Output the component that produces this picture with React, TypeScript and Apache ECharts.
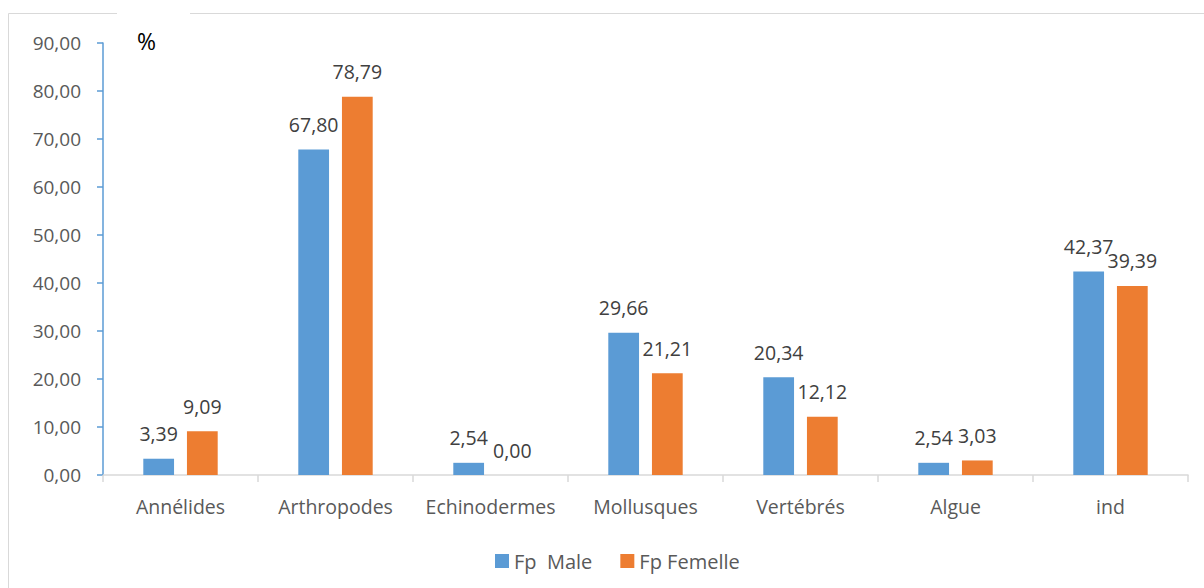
import React, { useEffect, useRef } from "react";
import * as echarts from "echarts";

const categories = ["Annélides", "Arthropodes", "Echinodermes", "Mollusques", "Vertébrés", "Algue", "ind"];
const maleValues = [3.39, 67.8, 2.54, 29.66, 20.34, 2.54, 42.37];
const femaleValues = [9.09, 78.79, 0.0, 21.21, 12.12, 3.03, 39.39];
const seriesNames = ["Fp  Male", "Fp Femelle"];

const fmt = (v: number) => v.toFixed(2).replace(".", ",");

export default function App() {
  const ref = useRef<HTMLDivElement>(null);
  useEffect(() => {
    if (!ref.current) return;
    const chart = echarts.init(ref.current, undefined, { renderer: "svg" });
    const font = "'Open Sans', 'Liberation Sans', sans-serif";
    const labelCfg = {
      show: true,
      position: "top" as const,
      distance: 15,
      color: "#404040",
      fontSize: 19.5,
      fontFamily: font,
      formatter: (p: any) => fmt(p.value),
    };
    chart.setOption({
      animation: false,
      backgroundColor: "#ffffff",
      textStyle: { fontFamily: font },
      graphic: [
        {
          type: "rect",
          shape: { x: 8.5, y: 13.5, width: 1400, height: 800 },
          style: { fill: "none", stroke: "#d9d9d9", lineWidth: 1 },
          silent: true,
          z: -10,
        },
        {
          type: "rect",
          shape: { x: 117, y: 10, width: 73, height: 8 },
          style: { fill: "#ffffff" },
          silent: true,
          z: -5,
        },
        {
          type: "text",
          left: 137,
          top: 29,
          style: { text: "%", fontSize: 23, fill: "#000000", fontFamily: font },
        },
      ],
      legend: {
        left: 490,
        top: 546,
        itemWidth: 14,
        itemHeight: 14,
        itemGap: 28,
        icon: "rect",
        textStyle: { color: "#595959", fontSize: 20, fontFamily: font },
        data: seriesNames,
      },
      grid: { left: 103, right: 16, top: 43, bottom: 113, containLabel: false },
      xAxis: {
        type: "category",
        data: categories,
        axisLine: { lineStyle: { color: "#d9d9d9", width: 1.5 } },
        axisTick: { show: true, length: 7, lineStyle: { color: "#d9d9d9", width: 1.5 } },
        axisLabel: { color: "#595959", fontSize: 19.5, margin: 21, fontFamily: font, interval: 0 },
      },
      yAxis: {
        type: "value",
        min: 0,
        max: 90,
        interval: 10,
        splitLine: { show: false },
        axisLine: { show: true, lineStyle: { color: "#5B9BD5", width: 1.5 } },
        axisTick: { show: true, length: 6, lineStyle: { color: "#5B9BD5", width: 1.5 } },
        axisLabel: { color: "#595959", fontSize: 19, margin: 22, fontFamily: font, formatter: (v: number) => fmt(v) },
      },
      series: [
        {
          name: seriesNames[0],
          type: "bar",
          data: maleValues,
          itemStyle: { color: "#5B9BD5" },
          barGap: "42%",
          barCategoryGap: "52%",
          label: labelCfg,
        },
        {
          name: seriesNames[1],
          type: "bar",
          data: femaleValues,
          itemStyle: { color: "#ED7D31" },
          barGap: "42%",
          barCategoryGap: "52%",
          label: labelCfg,
        },
      ],
    });
    return () => chart.dispose();
  }, []);
  return (
    <div
      ref={ref}
      style={{ position: "fixed", left: 0, top: 0, width: 1204, height: 588, background: "#fff" }}
    />
  );
}
